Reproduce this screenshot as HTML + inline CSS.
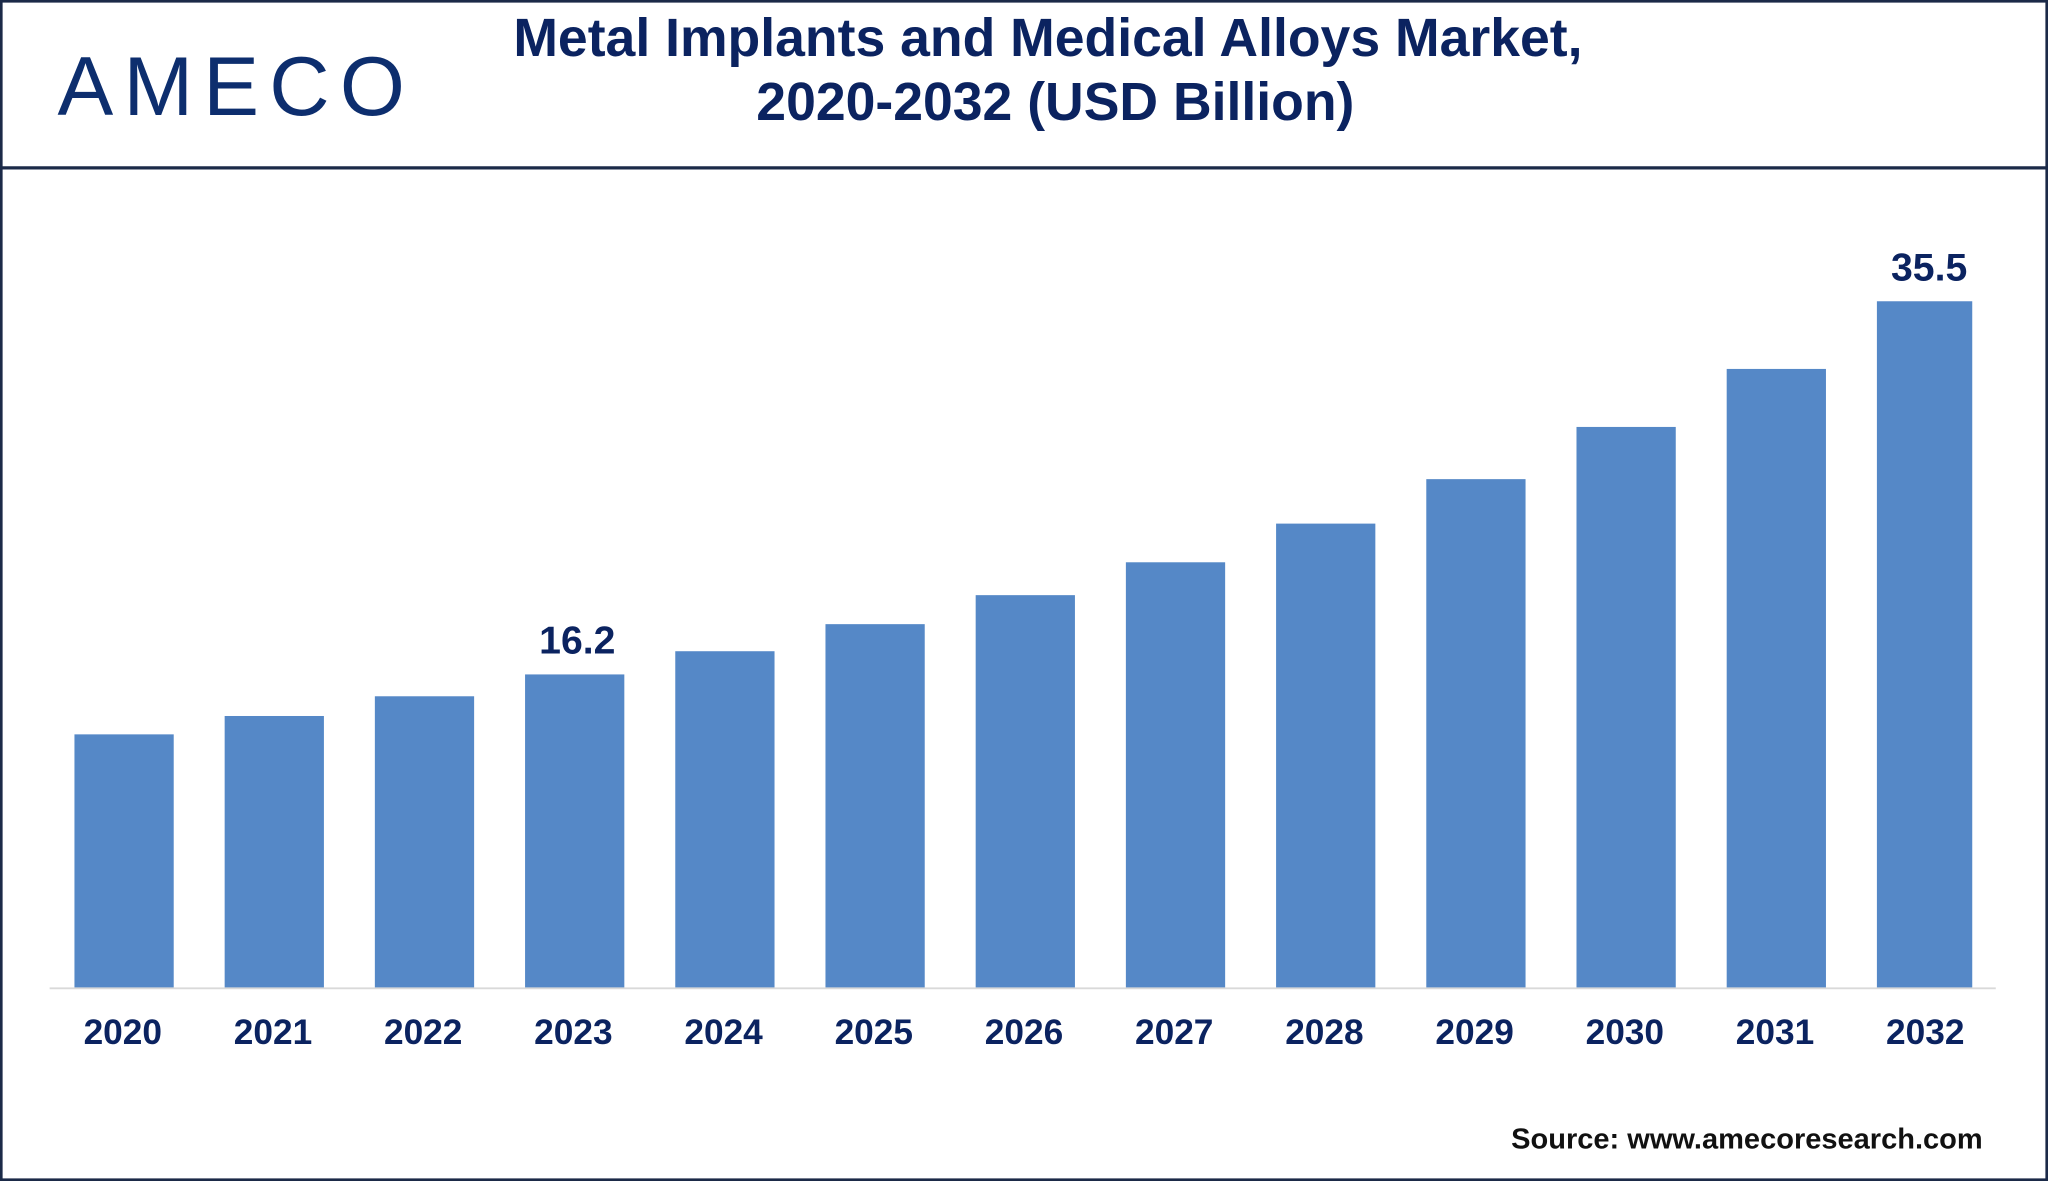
<!DOCTYPE html>
<html><head><meta charset="utf-8"><style>
html,body{margin:0;padding:0;background:#fff;}
svg{display:block;}
text{font-family:"Liberation Sans",sans-serif;}
</style></head><body>
<svg width="2048" height="1181" viewBox="0 0 1568 904" preserveAspectRatio="none" xmlns="http://www.w3.org/2000/svg">
<rect x="1" y="1" width="1566" height="902" fill="#fff" stroke="#1b2a48" stroke-width="2"/>
<line x1="0" y1="128.5" x2="1568" y2="128.5" stroke="#1b2a48" stroke-width="2.5"/>
<text x="44" y="88" font-size="64" fill="#0d2e6e" textLength="266" lengthAdjust="spacing">AMECO</text>
<text text-anchor="middle" font-size="41" font-weight="bold" fill="#0b2360">
<tspan x="808" y="43">Metal Implants and Medical Alloys Market,</tspan>
<tspan x="808" y="92">2020-2032 (USD Billion)</tspan></text>
<g id="bars"></g>
<line x1="38" y1="756.5" x2="1528" y2="756.5" stroke="#d9d9d9" stroke-width="1.5"/>
<text x="1518" y="879" text-anchor="end" font-size="22" font-weight="bold" fill="#111" textLength="361" lengthAdjust="spacingAndGlyphs">Source: www.amecoresearch.com</text>
</svg>
<script>
const categories=["2020","2021","2022","2023","2024","2025","2026","2027","2028","2029","2030","2031","2032"];
const values=[13.1,14.05,15.07,16.2,17.4,18.8,20.3,22.0,24.0,26.3,29.0,32.0,35.5];
const labelsShown=["","","","16.2","","","","","","","","","35.5"];
const NS="http://www.w3.org/2000/svg";
const g=document.getElementById('bars');
const base=756, perUnit=14.8, x0=57, step=115.0, bw=76;
function xs(i){return x0+i*step;}
function ys(v){return base-v*perUnit;}
categories.forEach((c,i)=>{
  const r=document.createElementNS(NS,'rect');
  
  
  r.setAttribute('x',xs(i));r.setAttribute('y',ys(values[i]));
  r.setAttribute('width',i===categories.length-1?73:bw);r.setAttribute('height',base-ys(values[i]));
  r.setAttribute('fill','#5588c7');g.appendChild(r);
  const t=document.createElementNS(NS,'text');
  
  
  t.setAttribute('x',xs(i)+bw/2-1);t.setAttribute('y',799);
  t.setAttribute('text-anchor','middle');t.setAttribute('font-size','27');
  t.setAttribute('font-weight','bold');t.setAttribute('fill','#0b2360');
  t.textContent=c;g.appendChild(t);
  if(labelsShown[i]){
    const l=document.createElementNS(NS,'text');
    
    
    l.setAttribute('x',xs(i)+bw/2+2);l.setAttribute('y',ys(values[i])-16);
    l.setAttribute('text-anchor','middle');l.setAttribute('font-size','30');
    l.setAttribute('font-weight','bold');l.setAttribute('fill','#0b2360');
    l.textContent=labelsShown[i];g.appendChild(l);
  }
});
</script>
</body></html>
